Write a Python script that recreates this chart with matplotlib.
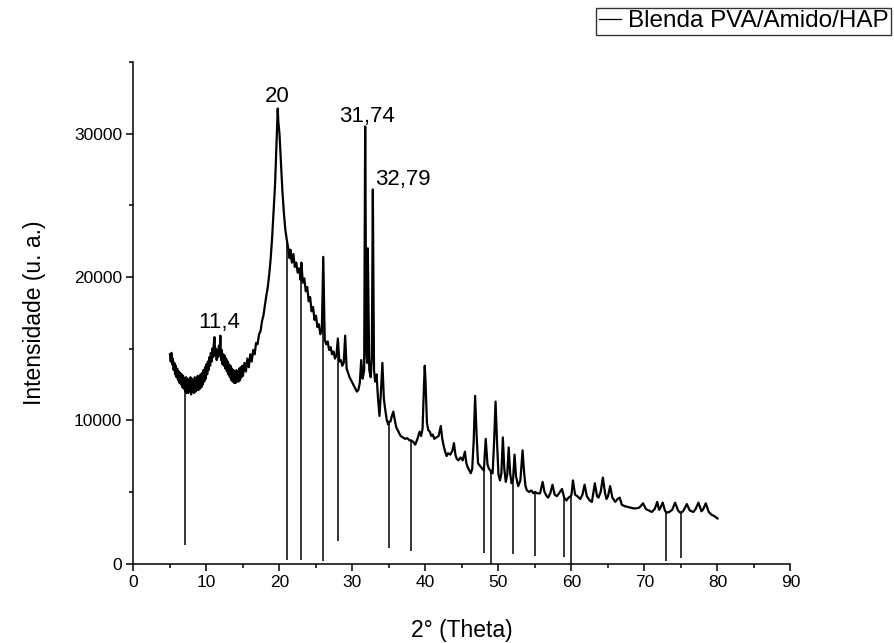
import numpy as np
import matplotlib
matplotlib.use("Agg")
import matplotlib.pyplot as plt
from matplotlib.ticker import MultipleLocator

plt.rcParams['font.family'] = ['Liberation Sans', 'DejaVu Sans']

# ---- data ----
two_theta = [
    5.0, 5.1, 5.2, 5.3, 5.4, 5.5, 5.6, 5.7, 5.8, 5.9, 6.0, 6.1, 6.2, 6.3, 6.4, 6.5, 6.6, 6.7, 6.8, 6.9,
    7.0, 7.1, 7.2, 7.3, 7.4, 7.5, 7.6, 7.7, 7.8, 7.9, 8.0, 8.1, 8.2, 8.3, 8.4, 8.5, 8.6, 8.7, 8.8, 8.9,
    9.0, 9.1, 9.2, 9.3, 9.4, 9.5, 9.6, 9.7, 9.8, 9.9, 10.0, 10.1, 10.2, 10.3, 10.4, 10.5, 10.6, 10.7, 10.8, 10.9,
    11.0, 11.1, 11.2, 11.3, 11.4, 11.5, 11.6, 11.7, 11.8, 11.9, 12.0, 12.1, 12.2, 12.3, 12.4, 12.5, 12.6, 12.7, 12.8, 12.9,
    13.0, 13.1, 13.2, 13.3, 13.4, 13.5, 13.6, 13.7, 13.8, 13.9, 14.0, 14.1, 14.2, 14.3, 14.4, 14.5, 14.6, 14.7, 14.8, 14.9,
    15.0, 15.2, 15.4, 15.6, 15.8, 16.0, 16.2, 16.4, 16.6, 16.8, 17.0, 17.2, 17.4, 17.6, 17.8, 18.0, 18.2, 18.4, 18.6, 18.8,
    19.0, 19.2, 19.4, 19.6, 19.7, 19.76, 19.85, 20.0, 20.2, 20.4, 20.6, 20.8, 21.0, 21.2, 21.4, 21.5, 21.7, 21.9, 22.1, 22.3,
    22.5, 22.7, 22.9, 23.0, 23.2, 23.4, 23.6, 23.8, 24.0, 24.2, 24.4, 24.6, 24.8, 25.0, 25.2, 25.4, 25.6, 25.8, 26.0, 26.2,
    26.4, 26.6, 26.8, 27.0, 27.2, 27.4, 27.6, 27.8, 28.0, 28.2, 28.4, 28.6, 28.8, 29.0, 29.2, 29.4, 29.6, 29.8, 30.0, 30.2,
    30.4, 30.6, 30.8, 31.0, 31.2, 31.4, 31.6, 31.74, 31.9, 32.0, 32.1, 32.3, 32.5, 32.65, 32.79, 32.95, 33.1, 33.3, 33.5, 33.7,
    33.9, 34.1, 34.3, 34.5, 34.7, 34.9, 35.0, 35.2, 35.4, 35.6, 35.8, 36.0, 36.3, 36.6, 36.9, 37.2, 37.5, 37.8, 38.0, 38.3,
    38.6, 38.9, 39.2, 39.4, 39.6, 39.8, 39.9, 40.0, 40.2, 40.4, 40.6, 40.8, 41.0, 41.2, 41.5, 41.8, 42.1, 42.3, 42.5, 42.7,
    42.9, 43.1, 43.4, 43.7, 43.9, 44.1, 44.3, 44.5, 44.8, 45.1, 45.4, 45.6, 45.8, 46.0, 46.2, 46.4, 46.6, 46.8, 47.0, 47.2,
    47.5, 47.8, 48.0, 48.25, 48.5, 48.7, 48.9, 49.0, 49.2, 49.4, 49.6, 49.8, 50.0, 50.2, 50.4, 50.6, 50.8, 51.0, 51.2, 51.4,
    51.6, 51.8, 52.0, 52.2, 52.4, 52.7, 53.0, 53.3, 53.5, 53.7, 53.9, 54.2, 54.5, 54.8, 55.0, 55.3, 55.7, 56.05, 56.3, 56.6,
    56.8, 57.1, 57.4, 57.7, 58.0, 58.3, 58.7, 59.0, 59.3, 59.6, 59.9, 60.0, 60.2, 60.5, 60.8, 61.2, 61.5, 61.8, 62.1, 62.5,
    62.8, 63.2, 63.5, 63.7, 64.0, 64.3, 64.6, 64.8, 65.0, 65.3, 65.6, 66.0, 66.3, 66.6, 66.9, 67.3, 67.7, 68.1, 68.5, 68.9,
    69.3, 69.8, 70.2, 70.6, 71.0, 71.4, 71.75, 72.0, 72.2, 72.5, 72.8, 73.0, 73.4, 73.8, 74.2, 74.6, 74.9, 75.0, 75.3, 75.8,
    76.2, 76.7, 77.0, 77.4, 77.8, 78.0, 78.4, 78.8, 79.2, 79.6, 80.0,
]
intensity = [
    14600, 14100, 14700, 13900, 14300, 13500, 14000, 13200, 13800, 13000, 13600, 12800, 13400, 12600, 13300, 12500, 13200, 12300, 13100, 12200,
    12900, 12000, 13000, 11900, 12900, 11900, 12800, 12000, 13000, 11800, 12900, 12000, 12800, 11900, 13000, 12000, 12900, 12100, 13100, 12100,
    13000, 12200, 13200, 12300, 13300, 12500, 13500, 12700, 13700, 12900, 13900, 13200, 14100, 13500, 14400, 13800, 14700, 14100, 15000, 14400,
    15300, 15800, 14500, 15000, 14200, 14900, 14400, 15200, 14600, 15900, 14200, 14900, 13900, 14600, 13800, 14500, 13600, 14300, 13400, 14100,
    13200, 13900, 13000, 13800, 12800, 13600, 12700, 13500, 12600, 13400, 12600, 13500, 12700, 13400, 12700, 13600, 12800, 13700, 13000, 13800,
    13100, 14000, 13400, 14300, 13700, 14600, 14100, 14900, 14600, 15400, 15300, 16000, 16200, 16900, 17300, 18000, 18700, 19300, 20200, 21300,
    22800, 24600, 26500, 29500, 31000, 31750, 30800, 30000, 28000, 26000, 24500, 23300, 22600, 22000, 21300, 21900, 21000, 21600, 20700, 21000,
    20300, 20600, 19800, 21000, 19600, 19900, 19000, 19300, 18300, 18600, 17600, 17900, 17000, 17300, 16500, 16700, 16000, 16200, 21400, 15600,
    15300, 15500, 14900, 15100, 14600, 14800, 14300, 14500, 15700, 14100, 14200, 13800, 14000, 15900, 13600, 13300, 13000, 12800, 12600, 12400,
    12200, 12000, 12100, 12600, 14200, 12900, 13500, 30500, 14800, 14000, 22000, 13500, 13000, 14500, 26100, 13500, 12700, 13200, 11500, 10300,
    12000, 14000, 11500, 10700, 10000, 9700, 9900, 9900, 10300, 10600, 10000, 9500, 9200, 8900, 8800, 8700, 8750, 8600, 8600, 8500,
    8300, 8700, 9200, 8900, 9400, 12500, 13800, 12800, 9800, 9300, 9200, 8900, 9000, 8700, 8800, 8900, 9600, 8700, 8200, 7800,
    7500, 7700, 7600, 7900, 8400, 7600, 7300, 7200, 7400, 7200, 7800, 7000, 6700, 6500, 6300, 6600, 8500, 11700, 9000, 7000,
    6800, 6600, 6500, 8700, 6900, 6600, 6500, 6300, 6300, 8500, 11300, 8500, 6200, 5800, 6300, 8800, 6600, 5700, 6200, 8100,
    6300, 5600, 5900, 7600, 6100, 5400, 5800, 7900, 6400, 5400, 5100, 5000, 5100, 4900, 5000, 4900, 4900, 5700, 5000, 4700,
    4600, 4900, 5500, 4800, 4700, 4900, 5200, 4600, 4400, 4600, 4700, 4800, 5800, 4800, 4700, 4500, 4800, 5500, 4700, 4400,
    4300, 5600, 4700, 4600, 5000, 6000, 4900, 4500, 4700, 5400, 4600, 4300, 4500, 4600, 4100, 4000, 3950, 3900, 3850, 3850,
    3900, 4200, 3800, 3700, 3600, 3800, 4300, 3750, 3900, 4250, 3700, 3550, 3600, 3750, 4250, 3700, 3550, 3550, 3650, 4150,
    3700, 3600, 3800, 4250, 3650, 3750, 4200, 3600, 3400, 3300, 3150,
]

# downward spikes (drop lines) : position and lowest value
drop_theta = [7, 21, 23, 26, 28, 35, 38, 48, 49, 52, 55, 59, 60, 73, 75]
drop_bottom = [1300, 250, 250, 150, 1550, 1050, 880, 750, 0, 650, 520, 470, 0, 150, 400]

peak_labels = ["11,4", "20", "31,74", "32,79"]
peak_label_x = [11.7, 19.66, 31.99, 33.05]
peak_label_y = [16830, 32580, 31190, 26800]
peak_label_ha = ["center", "center", "center", "left"]

series_name = "Blenda PVA/Amido/HAP"

# ---- figure ----
fig = plt.figure(figsize=(8.94, 6.43), dpi=100)
ax = fig.add_axes([0.1493, 0.1236, 0.7349, 0.7800])

x = np.array(two_theta)
y = np.array(intensity)
line, = ax.plot(x, y, color='black', lw=1.6, label=series_name)
tops = np.interp(drop_theta, x, y)
ax.vlines(drop_theta, drop_bottom, tops, color='black', lw=1.1)

for t, px, py, ha in zip(peak_labels, peak_label_x, peak_label_y, peak_label_ha):
    ax.text(px, py, t, ha=ha, va='center', fontsize=16)

ax.set_xlim(0, 90)
ax.set_ylim(0, 35000)
ax.xaxis.set_major_locator(MultipleLocator(10))
ax.xaxis.set_minor_locator(MultipleLocator(5))
ax.yaxis.set_major_locator(MultipleLocator(10000))
ax.yaxis.set_minor_locator(MultipleLocator(5000))
for s in ['top', 'right']:
    ax.spines[s].set_visible(False)
for s in ['left', 'bottom']:
    ax.spines[s].set_linewidth(1.1)
ax.tick_params(which='major', direction='out', length=5, width=1.1, labelsize=12.5, pad=3)
ax.tick_params(which='minor', direction='out', length=3, width=1.1)

ax.set_xlabel("2° (Theta)", fontsize=16.5, labelpad=21)
ax.set_ylabel("Intensidade (u. a.)", fontsize=16.5, labelpad=20)

leg_line = plt.Line2D([], [], color='black', lw=0.9)
leg = fig.legend(handles=[leg_line], labels=[series_name], loc='upper right',
                 bbox_to_anchor=(0.9966, 0.9876),
                 fontsize=17.5, frameon=True, fancybox=False, edgecolor='black',
                 handlelength=0.9, handletextpad=0.3, borderpad=0.1, borderaxespad=0)
leg.get_frame().set_linewidth(1.0)

fig.savefig("out.png", dpi=100)
